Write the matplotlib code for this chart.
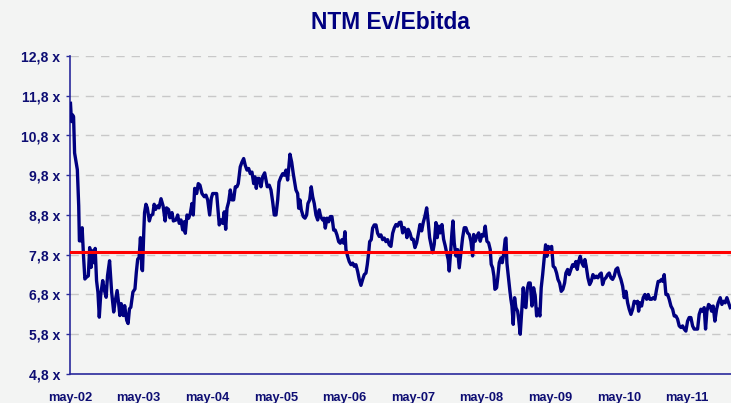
import matplotlib
matplotlib.use("Agg")
import matplotlib.pyplot as plt
from matplotlib import font_manager as fm

# ---------------- data (decimal year, NTM EV/EBITDA multiple) ----------------
dates = [
    2002.34, 2002.355, 2002.37, 2002.385, 2002.40, 2002.44, 2002.46, 2002.47, 2002.49, 2002.51,
    2002.53, 2002.55, 2002.57, 2002.60, 2002.62, 2002.64, 2002.66, 2002.68, 2002.70, 2002.72,
    2002.74, 2002.76, 2002.78, 2002.81, 2002.83, 2002.86, 2002.88, 2002.91, 2002.94, 2002.97,
    2002.99, 2003.02, 2003.04, 2003.06, 2003.08, 2003.11, 2003.13, 2003.16, 2003.18, 2003.20,
    2003.22, 2003.25, 2003.28, 2003.30, 2003.32, 2003.34, 2003.36, 2003.38, 2003.39, 2003.41,
    2003.42, 2003.44, 2003.46, 2003.49, 2003.51, 2003.54, 2003.56, 2003.58, 2003.61, 2003.63,
    2003.66, 2003.69, 2003.72, 2003.74, 2003.77, 2003.79, 2003.82, 2003.84,
    2003.878, 2003.903, 2003.926, 2003.951, 2003.976, 2003.999, 2004.014, 2004.039, 2004.063, 2004.087,
    2004.111, 2004.130, 2004.151, 2004.180, 2004.203, 2004.228, 2004.257, 2004.291, 2004.315, 2004.340,
    2004.369, 2004.393, 2004.413, 2004.447, 2004.471, 2004.490, 2004.509, 2004.534, 2004.559, 2004.582,
    2004.603, 2004.622, 2004.646, 2004.670, 2004.694, 2004.719, 2004.743, 2004.767, 2004.786, 2004.815,
    2004.840, 2004.865, 2004.888, 2004.913, 2004.938, 2004.961, 2004.986, 2005.011, 2005.030, 2005.049,
    2005.069, 2005.092, 2005.117, 2005.142, 2005.171, 2005.190, 2005.209, 2005.238, 2005.263, 2005.288,
    2005.311, 2005.336, 2005.361, 2005.380, 2005.409, 2005.434, 2005.457,
    2005.482, 2005.506, 2005.540, 2005.565, 2005.588, 2005.608, 2005.627, 2005.652, 2005.667, 2005.686,
    2005.705, 2005.734, 2005.759, 2005.783, 2005.802, 2005.827, 2005.850, 2005.871, 2005.894, 2005.919,
    2005.944, 2005.967, 2005.987, 2006.017, 2006.036, 2006.055, 2006.079, 2006.104, 2006.127, 2006.152,
    2006.177, 2006.200, 2006.225, 2006.250, 2006.273, 2006.298, 2006.323, 2006.342, 2006.356, 2006.381,
    2006.404, 2006.429, 2006.454, 2006.477, 2006.502, 2006.527, 2006.550, 2006.575, 2006.600, 2006.623,
    2006.648, 2006.667, 2006.687, 2006.702, 2006.725, 2006.745, 2006.769, 2006.794, 2006.818, 2006.842,
    2006.866, 2006.891, 2006.915, 2006.939, 2006.964, 2006.987, 2007.012, 2007.037, 2007.060,
    2007.085, 2007.110, 2007.133, 2007.158, 2007.183, 2007.206, 2007.231, 2007.245, 2007.264, 2007.289,
    2007.314, 2007.337, 2007.362, 2007.387, 2007.410, 2007.435, 2007.460, 2007.483, 2007.508, 2007.533,
    2007.556, 2007.576, 2007.595, 2007.620, 2007.643, 2007.668, 2007.687, 2007.708, 2007.731, 2007.756,
    2007.780, 2007.804, 2007.824, 2007.847, 2007.862, 2007.882, 2007.901, 2007.916, 2007.935, 2007.960,
    2007.984, 2008.008, 2008.033, 2008.057, 2008.081, 2008.105, 2008.130, 2008.154, 2008.178, 2008.203,
    2008.218, 2008.241, 2008.266, 2008.291, 2008.314, 2008.339, 2008.363, 2008.387, 2008.411, 2008.436,
    2008.460, 2008.474, 2008.495, 2008.514, 2008.528, 2008.553, 2008.572, 2008.591, 2008.616, 2008.635,
    2008.655, 2008.678,
    2008.689, 2008.703, 2008.728, 2008.747, 2008.761, 2008.776, 2008.795, 2008.815, 2008.834, 2008.859,
    2008.874, 2008.897, 2008.922, 2008.941, 2008.961, 2008.980, 2008.999, 2009.020, 2009.043, 2009.068,
    2009.092, 2009.116, 2009.136, 2009.159, 2009.184, 2009.203, 2009.224, 2009.247, 2009.267, 2009.286,
    2009.305, 2009.330, 2009.355, 2009.378, 2009.403, 2009.427, 2009.447, 2009.471, 2009.495, 2009.519,
    2009.544, 2009.563, 2009.588, 2009.611, 2009.636, 2009.661, 2009.684, 2009.709, 2009.728, 2009.748,
    2009.772, 2009.796, 2009.821, 2009.840, 2009.859, 2009.884, 2009.909, 2009.932, 2009.957, 2009.982,
    2010.005, 2010.030, 2010.054, 2010.078, 2010.098, 2010.122, 2010.146, 2010.171, 2010.194, 2010.219,
    2010.244, 2010.267,
    2010.292, 2010.317, 2010.340, 2010.365, 2010.390, 2010.413, 2010.438, 2010.463, 2010.486, 2010.511,
    2010.536, 2010.559, 2010.584, 2010.608, 2010.623, 2010.642, 2010.667, 2010.690, 2010.715, 2010.740,
    2010.763, 2010.787, 2010.812, 2010.836, 2010.860, 2010.885, 2010.908, 2010.933, 2010.958, 2010.977,
    2010.996, 2011.021, 2011.046, 2011.069, 2011.094, 2011.119, 2011.142, 2011.167, 2011.191, 2011.215,
    2011.240, 2011.264, 2011.288, 2011.312, 2011.337, 2011.360, 2011.385, 2011.410, 2011.433, 2011.458,
    2011.483, 2011.506, 2011.531, 2011.556, 2011.579, 2011.599, 2011.619, 2011.643, 2011.667, 2011.687,
    2011.710, 2011.735, 2011.760, 2011.783, 2011.813, 2011.837, 2011.862, 2011.885, 2011.910, 2011.935,
    2011.958,
]

ev_ebitda = [
    11.61, 11.15, 11.32, 11.27, 10.36, 9.94, 9.03, 8.15, 8.15, 8.48,
    7.77, 7.19, 7.23, 7.27, 7.98, 7.48, 7.90, 7.60, 7.96, 7.15,
    6.86, 6.23, 6.78, 7.15, 6.94, 6.73, 7.27, 7.65, 6.86, 6.36,
    6.61, 6.90, 6.61, 6.27, 6.57, 6.27, 6.52, 6.15, 6.07, 6.44,
    6.48, 6.86, 6.94, 7.36, 7.69, 7.73, 8.23, 7.44, 7.40, 8.44,
    8.86, 9.07, 8.98, 8.65, 8.78, 8.82, 9.07, 8.94, 9.03, 8.98,
    9.21, 9.03, 8.65, 8.98, 8.94, 8.73, 8.86, 8.65,
    8.675, 8.80, 8.59, 8.675, 8.425, 8.63, 8.34, 8.80, 8.72, 8.84,
    9.09, 8.80, 9.47, 9.34, 9.59, 9.55, 9.34, 9.26, 9.30, 9.18,
    8.80, 9.22, 9.34, 9.34, 9.34, 8.93, 8.55, 8.675, 8.59, 8.88,
    8.44, 8.97, 9.13, 9.43, 9.18, 9.18, 9.51, 9.51, 9.59, 10.01,
    10.13, 10.22, 10.05, 9.93, 9.97, 9.84, 9.88, 9.59, 9.76, 9.47,
    9.72, 9.72, 9.51, 9.76, 9.86, 9.68, 9.51, 9.55, 9.43, 9.13,
    8.80, 8.80, 9.18, 9.63, 9.76, 9.84, 9.80,
    9.93, 9.68, 10.33, 10.13, 9.84, 9.63, 9.43, 9.34, 8.97, 9.18,
    8.93, 8.76, 8.72, 8.80, 9.09, 9.18, 9.51, 9.26, 9.09, 8.80,
    8.675, 8.93, 8.76, 8.675, 8.72, 8.47, 8.72, 8.63, 8.76, 8.76,
    8.42, 8.42, 8.30, 8.13, 8.09, 8.18, 8.09, 8.38, 7.93, 7.76,
    7.63, 7.55, 7.59, 7.51, 7.55, 7.38, 7.18, 7.03, 7.18, 7.30,
    7.34, 7.55, 7.84, 8.13, 8.18, 8.47, 8.55, 8.55, 8.34, 8.26,
    8.30, 8.18, 8.22, 8.13, 8.18, 8.05, 8.01, 8.34, 8.47,
    8.56, 8.52, 8.61, 8.62, 8.35, 8.48, 8.40, 8.23, 8.44, 8.35,
    8.19, 8.19, 7.98, 8.10, 8.31, 8.56, 8.40, 8.61, 8.77, 8.98,
    8.61, 8.23, 8.06, 7.85, 8.06, 8.61, 8.23, 8.52, 8.35, 8.56,
    8.19, 8.02, 7.85, 7.68, 7.39, 7.85, 8.35, 8.65, 8.10, 7.77,
    7.93, 7.47, 7.85, 8.23, 8.48, 8.48, 8.35, 8.31, 8.14, 7.77,
    8.31, 8.14, 8.27, 8.35, 8.14, 8.31, 8.27, 8.52, 8.14, 8.10,
    7.93, 7.56, 7.47, 7.26, 6.93, 6.97, 7.26, 7.60, 7.72, 7.60,
    7.81, 8.19,
    8.22, 7.59, 7.18, 6.88, 6.68, 6.51, 6.05, 6.72, 6.47, 6.38,
    6.18, 5.80, 6.47, 6.97, 6.51, 6.47, 6.93, 7.09, 7.09, 6.51,
    6.97, 6.76, 6.26, 6.43, 6.26, 6.97, 7.30, 7.72, 8.05, 7.76,
    8.01, 7.97, 8.01, 7.51, 7.47, 7.34, 7.18, 7.09, 6.88, 6.93,
    7.09, 7.34, 7.43, 7.30, 7.43, 7.55, 7.51, 7.63, 7.43, 7.63,
    7.76, 7.59, 7.51, 7.68, 7.51, 7.22, 7.05, 7.13, 7.30, 7.22,
    7.26, 7.22, 7.30, 7.34, 7.05, 7.18, 7.22, 7.30, 7.34, 7.22,
    7.18, 7.26,
    7.43, 7.47, 7.30, 7.18, 7.01, 6.72, 6.88, 6.59, 6.43, 6.30,
    6.43, 6.63, 6.59, 6.63, 6.38, 6.59, 6.51, 6.72, 6.80, 6.68,
    6.80, 6.68, 6.68, 6.72, 6.68, 6.93, 7.13, 7.13, 7.18, 7.13,
    7.30, 6.80, 6.80, 6.68, 6.51, 6.43, 6.26, 6.26, 6.18, 6.01,
    5.97, 6.01, 5.93, 5.88, 6.13, 6.22, 6.22, 6.01, 5.93, 5.93,
    5.93, 6.30, 6.43, 6.38, 6.47, 5.93, 6.38, 6.55, 6.51, 6.38,
    6.51, 6.13, 6.43, 6.59, 6.72, 6.55, 6.63, 6.59, 6.72, 6.59,
    6.47,
]

average_level = 7.88
tick_years = [2002.333 + k for k in range(10)]
tick_labels = ["may-02", "may-03", "may-04", "may-05", "may-06",
               "may-07", "may-08", "may-09", "may-10", "may-11"]
y_ticks = [4.8, 5.8, 6.8, 7.8, 8.8, 9.8, 10.8, 11.8, 12.8]
title = "NTM Ev/Ebitda"

# ---------------- styling ----------------
names = {f.name for f in fm.fontManager.ttflist}
FONT, sc = "DejaVu Sans", 0.72
for cand, s in (("Liberation Sans Narrow", 1.0), ("DejaVu Sans Condensed", 0.85),
                ("Liberation Sans", 0.82)):
    if cand in names:
        FONT, sc = cand, s
        break

bg = "#f3f4f3"
navy = "#000080"
label_col = "#0d0d73"
axis_col = "#2a2a9c"

fig = plt.figure(figsize=(7.31, 4.03), dpi=100, facecolor=bg)
ax = fig.add_axes([70 / 731, 29 / 403, 1 - 70 / 731, 318 / 403])
ax.set_facecolor(bg)

ax.plot(dates, ev_ebitda, color=navy, lw=2.4, solid_joinstyle="round", zorder=3)
ax.axhline(average_level, color="#ff0000", lw=2.2, zorder=4)

ax.set_xlim(2002.333, 2011.97)
ax.set_ylim(4.8, 12.8)
ax.set_yticks(y_ticks)
ax.set_yticklabels([f"{v:.1f}".replace(".", ",") + " x" for v in y_ticks])
ax.set_xticks(tick_years)
ax.set_xticklabels(tick_labels)

for lab in ax.get_yticklabels():
    lab.set_fontfamily(FONT)
    lab.set_fontweight("bold")
    lab.set_fontsize(12.3 * sc)
    lab.set_color(label_col)
for lab in ax.get_xticklabels():
    lab.set_fontfamily(FONT)
    lab.set_fontweight("bold")
    lab.set_fontsize(11.3 * sc)
    lab.set_color(label_col)

ax.tick_params(axis="y", length=3, width=1, color=axis_col, pad=4)
ax.tick_params(axis="x", length=0, pad=13)

ax.grid(axis="y", color="#c8c8c8", lw=1.0, linestyle=(0, (6, 5)), zorder=1)
ax.set_axisbelow(True)

for s in ("top", "right"):
    ax.spines[s].set_visible(False)
for s in ("left", "bottom"):
    ax.spines[s].set_color(axis_col)
    ax.spines[s].set_linewidth(1.2)

fig.text(390 / 731, 1 - 22.5 / 403, title, ha="center", va="center",
         fontfamily=FONT, fontweight="bold", fontsize=20 * sc, color=navy)

fig.savefig("out.png", dpi=100, facecolor=bg)
